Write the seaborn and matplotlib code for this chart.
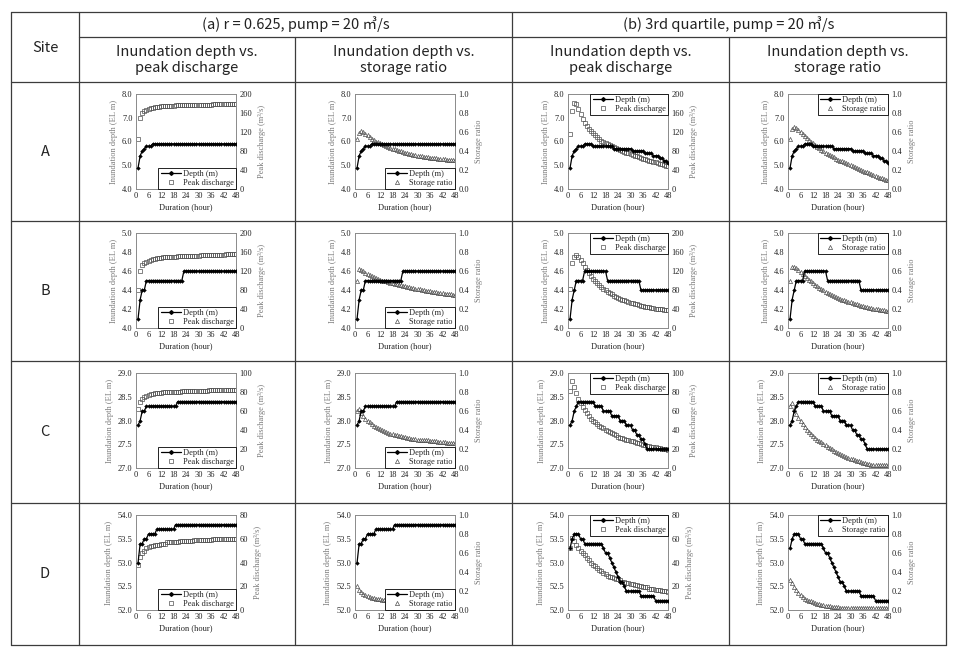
import matplotlib
matplotlib.use("Agg")
import matplotlib.pyplot as plt
import seaborn as sns
import pandas as pd
from matplotlib.lines import Line2D

# ---------------- data ----------------
hours = list(range(1, 49))
x_ticks = [0, 6, 12, 18, 24, 30, 36, 42, 48]
sites = ["A", "B", "C", "D"]

header_a = "(a) r = 0.625, pump = 20 ㎥/s"
header_b = "(b) 3rd quartile, pump = 20 ㎥/s"
col_header_q = "Inundation depth vs.\npeak discharge"
col_header_s = "Inundation depth vs.\nstorage ratio"

depth_ticks = {
    "A": [4.0, 5.0, 6.0, 7.0, 8.0],
    "B": [4.0, 4.2, 4.4, 4.6, 4.8, 5.0],
    "C": [27.0, 27.5, 28.0, 28.5, 29.0],
    "D": [52.0, 52.5, 53.0, 53.5, 54.0],
}
discharge_ticks = {
    "A": [0, 40, 80, 120, 160, 200],
    "B": [0, 40, 80, 120, 160, 200],
    "C": [0, 20, 40, 60, 80, 100],
    "D": [0, 20, 40, 60, 80],
}
storage_ticks = [0.0, 0.2, 0.4, 0.6, 0.8, 1.0]

# ---- Site A ----
depth_A_a = [4.9, 5.4, 5.6, 5.7, 5.8, 5.8, 5.8, 5.9, 5.9, 5.9, 5.9, 5.9,
             5.9, 5.9, 5.9, 5.9, 5.9, 5.9, 5.9, 5.9, 5.9, 5.9, 5.9, 5.9,
             5.9, 5.9, 5.9, 5.9, 5.9, 5.9, 5.9, 5.9, 5.9, 5.9, 5.9, 5.9,
             5.9, 5.9, 5.9, 5.9, 5.9, 5.9, 5.9, 5.9, 5.9, 5.9, 5.9, 5.9]
discharge_A_a = [105, 150, 160, 164, 167, 169, 170, 171, 172, 173, 173, 174,
                 174, 174, 175, 175, 175, 175, 176, 176, 176, 176, 176, 176,
                 176, 177, 177, 177, 177, 177, 177, 177, 177, 177, 177, 177,
                 178, 178, 178, 178, 178, 178, 178, 178, 178, 178, 178, 178]
storage_A_a = [0.53, 0.59, 0.61, 0.60, 0.58, 0.57, 0.55, 0.53, 0.52, 0.50, 0.49, 0.48,
               0.47, 0.46, 0.45, 0.44, 0.43, 0.42, 0.42, 0.41, 0.40, 0.40, 0.39, 0.38,
               0.38, 0.37, 0.37, 0.36, 0.36, 0.35, 0.35, 0.35, 0.34, 0.34, 0.34, 0.33,
               0.33, 0.33, 0.33, 0.32, 0.32, 0.32, 0.32, 0.31, 0.31, 0.31, 0.31, 0.31]
depth_A_b = [4.9, 5.4, 5.6, 5.7, 5.8, 5.8, 5.8, 5.9, 5.9, 5.9, 5.9, 5.8,
             5.8, 5.8, 5.8, 5.8, 5.8, 5.8, 5.8, 5.8, 5.8, 5.7, 5.7, 5.7,
             5.7, 5.7, 5.7, 5.7, 5.7, 5.7, 5.6, 5.6, 5.6, 5.6, 5.6, 5.6,
             5.5, 5.5, 5.5, 5.5, 5.4, 5.4, 5.4, 5.3, 5.3, 5.2, 5.2, 5.1]
discharge_A_b = [115, 165, 181, 180, 168, 157, 148, 140, 133, 127, 122, 117,
                 113, 109, 105, 102, 99, 96, 94, 92, 90, 88, 86, 84,
                 82, 80, 78, 76, 75, 73, 72, 70, 69, 67, 66, 64,
                 63, 62, 60, 59, 57, 56, 55, 53, 52, 51, 49, 48]
storage_A_b = [0.53, 0.63, 0.65, 0.64, 0.62, 0.60, 0.58, 0.56, 0.54, 0.52, 0.50, 0.48,
               0.46, 0.44, 0.43, 0.41, 0.40, 0.38, 0.37, 0.36, 0.35, 0.34, 0.32, 0.31,
               0.30, 0.29, 0.28, 0.27, 0.26, 0.25, 0.24, 0.23, 0.22, 0.21, 0.20, 0.19,
               0.18, 0.18, 0.17, 0.16, 0.15, 0.14, 0.13, 0.12, 0.12, 0.11, 0.10, 0.09]

# ---- Site B ----
depth_B_a = [4.1, 4.3, 4.4, 4.4, 4.5, 4.5, 4.5, 4.5, 4.5, 4.5, 4.5, 4.5,
             4.5, 4.5, 4.5, 4.5, 4.5, 4.5, 4.5, 4.5, 4.5, 4.5, 4.6, 4.6,
             4.6, 4.6, 4.6, 4.6, 4.6, 4.6, 4.6, 4.6, 4.6, 4.6, 4.6, 4.6,
             4.6, 4.6, 4.6, 4.6, 4.6, 4.6, 4.6, 4.6, 4.6, 4.6, 4.6, 4.6]
discharge_B_a = [80, 120, 132, 137, 140, 142, 144, 145, 146, 147, 148, 148,
                 149, 149, 149, 150, 150, 150, 150, 151, 151, 151, 151, 151,
                 152, 152, 152, 152, 152, 152, 153, 153, 153, 153, 153, 153,
                 154, 154, 154, 154, 154, 154, 155, 155, 155, 155, 155, 155]
storage_B_a = [0.50, 0.62, 0.61, 0.60, 0.58, 0.57, 0.56, 0.55, 0.54, 0.53, 0.52, 0.51,
               0.50, 0.49, 0.49, 0.48, 0.47, 0.47, 0.46, 0.46, 0.45, 0.45, 0.44, 0.44,
               0.43, 0.43, 0.42, 0.42, 0.41, 0.41, 0.41, 0.40, 0.40, 0.39, 0.39, 0.39,
               0.38, 0.38, 0.38, 0.37, 0.37, 0.37, 0.36, 0.36, 0.36, 0.36, 0.35, 0.35]
depth_B_b = [4.1, 4.3, 4.4, 4.5, 4.5, 4.5, 4.5, 4.6, 4.6, 4.6, 4.6, 4.6,
             4.6, 4.6, 4.6, 4.6, 4.6, 4.6, 4.5, 4.5, 4.5, 4.5, 4.5, 4.5,
             4.5, 4.5, 4.5, 4.5, 4.5, 4.5, 4.5, 4.5, 4.5, 4.5, 4.4, 4.4,
             4.4, 4.4, 4.4, 4.4, 4.4, 4.4, 4.4, 4.4, 4.4, 4.4, 4.4, 4.4]
discharge_B_b = [83, 137, 150, 154, 150, 143, 136, 129, 122, 116, 110, 104,
                 99, 95, 91, 87, 83, 79, 76, 73, 71, 68, 66, 64,
                 62, 60, 58, 56, 55, 53, 52, 51, 50, 49, 47, 46,
                 45, 45, 44, 43, 42, 41, 40, 40, 39, 38, 38, 37]
storage_B_b = [0.50, 0.64, 0.64, 0.63, 0.61, 0.59, 0.57, 0.55, 0.53, 0.51, 0.49, 0.47,
               0.45, 0.44, 0.42, 0.41, 0.40, 0.38, 0.37, 0.36, 0.35, 0.34, 0.33, 0.32,
               0.31, 0.30, 0.29, 0.28, 0.27, 0.27, 0.26, 0.25, 0.25, 0.24, 0.23, 0.23,
               0.22, 0.22, 0.21, 0.21, 0.20, 0.20, 0.20, 0.19, 0.19, 0.19, 0.18, 0.18]

# ---- Site C ----
depth_C_a = [27.9, 28.0, 28.2, 28.2, 28.3, 28.3, 28.3, 28.3, 28.3, 28.3, 28.3, 28.3,
             28.3, 28.3, 28.3, 28.3, 28.3, 28.3, 28.3, 28.4, 28.4, 28.4, 28.4, 28.4,
             28.4, 28.4, 28.4, 28.4, 28.4, 28.4, 28.4, 28.4, 28.4, 28.4, 28.4, 28.4,
             28.4, 28.4, 28.4, 28.4, 28.4, 28.4, 28.4, 28.4, 28.4, 28.4, 28.4, 28.4]
discharge_C_a = [62, 70, 73, 75, 76, 77, 78, 78, 79, 79, 79, 79,
                 80, 80, 80, 80, 80, 80, 80, 80, 80, 81, 81, 81,
                 81, 81, 81, 81, 81, 81, 81, 81, 81, 81, 82, 82,
                 82, 82, 82, 82, 82, 82, 82, 82, 82, 82, 82, 82]
storage_C_a = [0.60, 0.62, 0.58, 0.55, 0.52, 0.50, 0.48, 0.46, 0.44, 0.43, 0.42, 0.41,
               0.40, 0.39, 0.38, 0.37, 0.36, 0.36, 0.35, 0.35, 0.34, 0.34, 0.33, 0.33,
               0.32, 0.32, 0.31, 0.31, 0.31, 0.30, 0.30, 0.30, 0.29, 0.29, 0.29, 0.28,
               0.28, 0.28, 0.28, 0.27, 0.27, 0.27, 0.27, 0.26, 0.26, 0.26, 0.26, 0.26]
depth_C_b = [27.9, 28.0, 28.2, 28.3, 28.4, 28.4, 28.4, 28.4, 28.4, 28.4, 28.4, 28.4,
             28.3, 28.3, 28.3, 28.3, 28.2, 28.2, 28.2, 28.2, 28.1, 28.1, 28.1, 28.1,
             28.0, 28.0, 28.0, 27.9, 27.9, 27.9, 27.8, 27.8, 27.7, 27.7, 27.6, 27.6,
             27.5, 27.4, 27.4, 27.4, 27.4, 27.4, 27.4, 27.4, 27.4, 27.4, 27.4, 27.4]
discharge_C_b = [81, 92, 85, 79, 73, 68, 64, 61, 58, 55, 52, 50,
                 48, 46, 44, 43, 42, 40, 39, 38, 37, 36, 35, 33,
                 32, 32, 31, 30, 29, 28, 28, 27, 26, 26, 25, 24,
                 24, 23, 23, 22, 22, 22, 21, 21, 20, 20, 20, 19]
storage_C_b = [0.65, 0.68, 0.62, 0.57, 0.53, 0.49, 0.46, 0.43, 0.40, 0.38, 0.36, 0.34,
               0.32, 0.30, 0.28, 0.27, 0.25, 0.24, 0.22, 0.21, 0.20, 0.18, 0.17, 0.16,
               0.15, 0.14, 0.13, 0.12, 0.11, 0.10, 0.09, 0.08, 0.07, 0.07, 0.06, 0.05,
               0.05, 0.04, 0.04, 0.03, 0.03, 0.03, 0.03, 0.03, 0.03, 0.03, 0.03, 0.03]

# ---- Site D ----
depth_D_a = [53.0, 53.4, 53.4, 53.5, 53.5, 53.6, 53.6, 53.6, 53.6, 53.7, 53.7, 53.7,
             53.7, 53.7, 53.7, 53.7, 53.7, 53.7, 53.8, 53.8, 53.8, 53.8, 53.8, 53.8,
             53.8, 53.8, 53.8, 53.8, 53.8, 53.8, 53.8, 53.8, 53.8, 53.8, 53.8, 53.8,
             53.8, 53.8, 53.8, 53.8, 53.8, 53.8, 53.8, 53.8, 53.8, 53.8, 53.8, 53.8]
discharge_D_a = [38, 45, 48, 50, 52, 53, 54, 54, 55, 55, 55, 56,
                 56, 56, 57, 57, 57, 57, 57, 57, 58, 58, 58, 58,
                 58, 58, 58, 59, 59, 59, 59, 59, 59, 59, 59, 59,
                 60, 60, 60, 60, 60, 60, 60, 60, 60, 60, 60, 60]
storage_D_a = [0.25, 0.21, 0.19, 0.17, 0.16, 0.15, 0.14, 0.13, 0.13, 0.12, 0.12, 0.12,
               0.11, 0.11, 0.11, 0.11, 0.10, 0.10, 0.10, 0.10, 0.10, 0.10, 0.09, 0.09,
               0.09, 0.09, 0.09, 0.09, 0.09, 0.09, 0.09, 0.09, 0.09, 0.09, 0.09, 0.09,
               0.08, 0.08, 0.08, 0.08, 0.08, 0.08, 0.08, 0.08, 0.08, 0.08, 0.08, 0.08]
depth_D_b = [53.3, 53.5, 53.6, 53.6, 53.6, 53.5, 53.5, 53.4, 53.4, 53.4, 53.4, 53.4,
             53.4, 53.4, 53.4, 53.4, 53.3, 53.2, 53.2, 53.1, 53.0, 52.9, 52.8, 52.7,
             52.6, 52.6, 52.5, 52.4, 52.4, 52.4, 52.4, 52.4, 52.4, 52.4, 52.3, 52.3,
             52.3, 52.3, 52.3, 52.3, 52.3, 52.2, 52.2, 52.2, 52.2, 52.2, 52.2, 52.2]
discharge_D_b = [52, 61, 58, 55, 52, 50, 48, 46, 44, 42, 40, 38,
                 37, 35, 34, 33, 31, 30, 29, 28, 28, 27, 26, 26,
                 25, 24, 24, 23, 23, 22, 22, 21, 21, 20, 20, 19,
                 19, 19, 18, 18, 18, 17, 17, 17, 16, 16, 16, 15]
storage_D_b = [0.32, 0.28, 0.24, 0.21, 0.18, 0.16, 0.14, 0.12, 0.11, 0.10, 0.09, 0.08,
               0.07, 0.06, 0.06, 0.05, 0.05, 0.04, 0.04, 0.04, 0.03, 0.03, 0.03, 0.03,
               0.02, 0.02, 0.02, 0.02, 0.02, 0.02, 0.02, 0.02, 0.02, 0.02, 0.02, 0.02,
               0.02, 0.02, 0.02, 0.02, 0.02, 0.02, 0.02, 0.02, 0.02, 0.02, 0.02, 0.02]

depth = {("A", "a"): depth_A_a, ("A", "b"): depth_A_b,
         ("B", "a"): depth_B_a, ("B", "b"): depth_B_b,
         ("C", "a"): depth_C_a, ("C", "b"): depth_C_b,
         ("D", "a"): depth_D_a, ("D", "b"): depth_D_b}
discharge = {("A", "a"): discharge_A_a, ("A", "b"): discharge_A_b,
             ("B", "a"): discharge_B_a, ("B", "b"): discharge_B_b,
             ("C", "a"): discharge_C_a, ("C", "b"): discharge_C_b,
             ("D", "a"): discharge_D_a, ("D", "b"): discharge_D_b}
storage = {("A", "a"): storage_A_a, ("A", "b"): storage_A_b,
           ("B", "a"): storage_B_a, ("B", "b"): storage_B_b,
           ("C", "a"): storage_C_a, ("C", "b"): storage_C_b,
           ("D", "a"): storage_D_a, ("D", "b"): storage_D_b}

# ---------------- figure ----------------
sns.set_style("white")
plt.rcParams["font.family"] = ["Liberation Serif", "DejaVu Serif"]

W, H = 964, 657
fig = plt.figure(figsize=(W / 100, H / 100), dpi=100)
fig.patch.set_facecolor("white")


def fx(x):
    return x / W


def fy(y):
    return 1 - y / H


LINE_C = "#3c3c3c"


def hline(y, x0, x1, lw=0.9):
    fig.add_artist(Line2D([fx(x0), fx(x1)], [fy(y), fy(y)], transform=fig.transFigure,
                          color=LINE_C, lw=lw))


def vline(x, y0, y1, lw=0.9):
    fig.add_artist(Line2D([fx(x), fx(x)], [fy(y0), fy(y1)], transform=fig.transFigure,
                          color=LINE_C, lw=lw))


# table grid
TL, TR, TT, TB = 11, 946, 12, 645
X_SITE, X_A2, X_MID, X_B2 = 79, 295, 512, 729
Y_H1, Y_H2 = 37, 82
row_edges = [82, 221, 361, 503, 645]

hline(TT, TL, TR)
hline(TB, TL, TR)
hline(Y_H1, X_SITE, TR)
for y in row_edges[:-1]:
    hline(y, TL, TR)
vline(TL, TT, TB)
vline(TR, TT, TB)
vline(X_SITE, TT, TB)
vline(X_MID, TT, TB)
vline(X_A2, Y_H1, TB)
vline(X_B2, Y_H1, TB)

hdr_font = ["Noto Sans CJK KR", "DejaVu Sans"]
HDR_C = "#222222"
HFS = 10.5
fig.text(fx((X_SITE + X_MID) / 2), fy(24.5), header_a, ha="center", va="center",
         fontsize=HFS, family=hdr_font, color=HDR_C)
fig.text(fx((X_MID + TR) / 2), fy(24.5), header_b, ha="center", va="center",
         fontsize=HFS, family=hdr_font, color=HDR_C)
fig.text(fx(45), fy(48), "Site", ha="center", va="center", fontsize=HFS,
         family=hdr_font, color=HDR_C)
col_edges = [X_SITE, X_A2, X_MID, X_B2, TR]
col_titles = [col_header_q, col_header_s, col_header_q, col_header_s]
for i, t in enumerate(col_titles):
    fig.text(fx((col_edges[i] + col_edges[i + 1]) / 2), fy(60), t, ha="center",
             va="center", fontsize=HFS, family=hdr_font, color=HDR_C, linespacing=1.25)
for r, s in enumerate(sites):
    fig.text(fx(45), fy((row_edges[r] + row_edges[r + 1]) / 2), s, ha="center",
             va="center", fontsize=HFS, family=hdr_font, color=HDR_C)

# panels
ax_left = [136, 355, 568, 788]
AX_W, AX_H = 100, 95
FS = 6
SPINE_C = "#8a8a8a"
MARK_C = "#505050"

panel_cols = [("a", "q"), ("a", "s"), ("b", "q"), ("b", "s")]

for r, site in enumerate(sites):
    top = row_edges[r] + 12
    for c, (scen, kind) in enumerate(panel_cols):
        ax = fig.add_axes([fx(ax_left[c]), fy(top + AX_H), AX_W / W, AX_H / H])
        dvals = depth[(site, scen)]
        if kind == "q":
            svals = discharge[(site, scen)]
            sec_label = "Peak discharge (m³/s)"
            sec_leg = "Peak discharge"
            marker = "s"
            sticks = discharge_ticks[site]
            sfmt = "{:.0f}"
        else:
            svals = storage[(site, scen)]
            sec_label = "Storage ratio"
            sec_leg = "Storage ratio"
            marker = "^"
            sticks = storage_ticks
            sfmt = "{:.1f}"
        df = pd.DataFrame({"Duration": hours, "Depth": dvals, "Secondary": svals})

        sns.lineplot(data=df, x="Duration", y="Depth", ax=ax, color="black", lw=0.9,
                     marker="D", markersize=1.9, markeredgecolor="black",
                     markerfacecolor="black", markeredgewidth=0.3, zorder=4)
        dt = depth_ticks[site]
        ax.set_ylim(dt[0], dt[-1])
        ax.set_yticks(dt)
        ax.set_yticklabels(["{:.1f}".format(v) for v in dt])
        ax.set_xlim(0, 48)
        ax.set_xticks(x_ticks)
        ax.set_xticklabels([str(v) for v in x_ticks])
        ax.set_xlabel("Duration (hour)", fontsize=FS, color="#222222", labelpad=2)
        ax.set_ylabel("Inundation depth (EL m)", fontsize=FS, color="#7a7a7a", labelpad=3)
        ax.tick_params(length=0, pad=2.5, labelsize=FS, colors="#222222")

        ax2 = ax.twinx()
        sns.lineplot(data=df, x="Duration", y="Secondary", ax=ax2, linestyle="",
                     marker=marker, markersize=3.0, markerfacecolor="none",
                     markeredgecolor=MARK_C, markeredgewidth=0.5, color=MARK_C)
        ax2.set_ylim(sticks[0], sticks[-1])
        ax2.set_yticks(sticks)
        ax2.set_yticklabels([sfmt.format(v) for v in sticks])
        ax2.set_ylabel(sec_label, fontsize=FS, color="#7a7a7a", labelpad=4)
        ax2.tick_params(length=0, pad=2.5, labelsize=FS, colors="#222222")
        ax2.set_xlim(0, 48)

        for a in (ax, ax2):
            for sp in a.spines.values():
                sp.set_color(SPINE_C)
                sp.set_linewidth(0.6)
        ax.set_zorder(2)
        ax2.set_zorder(1)
        ax.patch.set_visible(False)

        handles = [
            Line2D([], [], color="black", lw=0.9, marker="D", markersize=1.9,
                   markerfacecolor="black", markeredgecolor="black"),
            Line2D([], [], color=MARK_C, linestyle="", marker=marker, markersize=3.0,
                   markerfacecolor="none", markeredgecolor=MARK_C, markeredgewidth=0.5),
        ]
        loc = "lower right" if scen == "a" else "upper right"
        leg = ax.legend(handles, ["Depth (m)", sec_leg], loc=loc,
                        bbox_to_anchor=(1, 0) if scen == "a" else (1, 1),
                        borderaxespad=0, frameon=True, fancybox=False, framealpha=1,
                        edgecolor="black", prop={"size": FS, "family": ["Liberation Serif"]},
                        handlelength=2.4, handletextpad=0.3, borderpad=0.25,
                        labelspacing=0.15)
        leg.get_frame().set_linewidth(0.6)
        leg.set_zorder(10)

fig.savefig("out.png", dpi=100, facecolor="white")
